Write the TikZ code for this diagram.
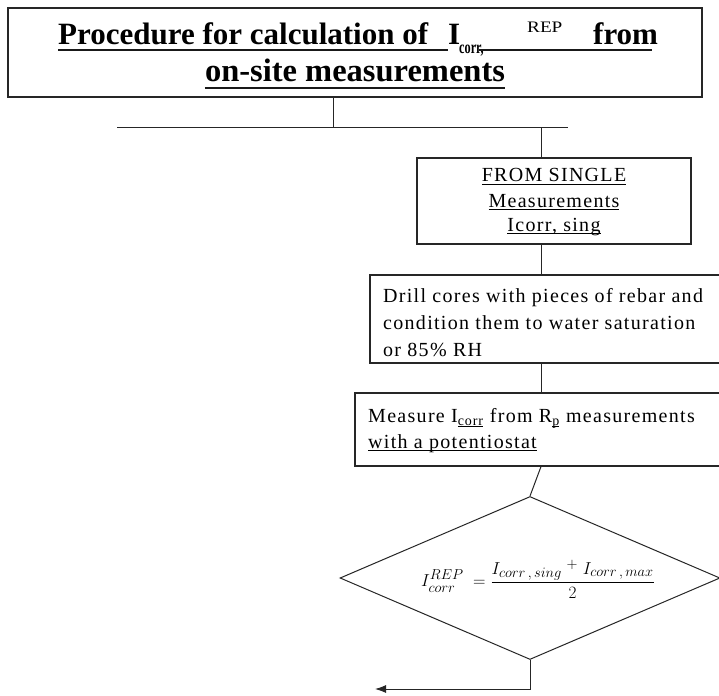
\documentclass[tikz,border=0pt]{standalone}
\usepackage{fontspec}
\setmainfont{Liberation Serif}
\newfontfamily\bodyfont[LetterSpace=6.5]{Liberation Serif}
\usetikzlibrary{shapes.geometric,arrows.meta}
\newcommand{\myul}[2][2.5pt]{\setbox0\hbox{#2}\rlap{\rule[-#1]{\wd0}{0.9pt}}\box0}
\begin{document}
\begin{tikzpicture}[x=1pt,y=-1pt,
  box/.style={draw=black!85,line width=1.2pt,rectangle,inner sep=0pt},
  conn/.style={draw=black!85,line width=1pt},
  txt/.style={inner sep=0pt,anchor=base west,font=\bodyfont\fontsize{20}{24}\selectfont,text=black},
  ctxt/.style={txt,anchor=base},
  ttl/.style={inner sep=0pt,anchor=base west,font=\fontsize{31}{36}\selectfont\bfseries},
  ulbig/.style={line width=2.5pt,black!90}
  ]
\useasboundingbox (0,0) rectangle (719,695);
\fill[white] (0,0) rectangle (719,695);

% boxes
\node[box,minimum width=694pt,minimum height=89pt] (title) at (355,52.5) {};
\node[box,minimum width=274pt,minimum height=86pt] (from) at (554,201) {};
\node[box,minimum width=400pt,minimum height=88pt] (drill) at (570,319) {};
\node[box,minimum width=415pt,minimum height=73pt] (meas) at (562.5,429.5) {};
\node[draw=black!85,line width=1pt,diamond,minimum width=380pt,minimum height=163pt,inner sep=0pt] (dia) at (530,578) {};

% title text
\node[ttl] (t1a) at (58,45) {Procedure for calculation of};
\node[ttl] (t1b) at (448,45) {I};
\node[inner sep=0pt,anchor=base west,font=\fontsize{18}{18}\selectfont\bfseries] (t1c) at (459,54) {\scalebox{0.68}[1]{corr,}};
\node[inner sep=0pt,anchor=base west,font=\fontsize{16}{16}\selectfont] (t1d) at (527,33) {\scalebox{1.2}[1]{REP}};
\node[ttl] (t1e) at (593,45) {from};
\node[ttl,anchor=base,font=\fontsize{32.5}{36}\selectfont\bfseries] (t2) at (355,82) {on-site measurements};
\draw[ulbig] ([yshift=-5pt]t1a.base west) -- ([yshift=-5pt]t1b.base west);
\draw[ulbig] (479,50) -- (652,50);
\draw[ulbig] ([yshift=-6pt]t2.base west) -- ([yshift=-6pt]t2.base east);

% from single
\node[ctxt] (f1) at (554,182) {\myul{FROM SINGLE}};
\node[ctxt] (f2) at (554,207) {\myul{Measurements}};
\node[ctxt] (f3) at (554,231) {\myul{Icorr, sing}};

% drill
\node[txt] (d1) at (383,302) {Drill cores with pieces of rebar and};
\node[txt] (d2) at (383,329) {condition them to water saturation};
\node[txt] (d3) at (383,356) {or 85\% RH};

% measure
\node[txt] (m1) at (368,422) {Measure I\textsubscript{\myul[1.5pt]{corr}} from R\textsubscript{\myul[1.5pt]{p}} measurements};
\node[txt] (m2) at (368,448) {\myul{with a potentiostat}};

% formula
\node[inner sep=0pt,font=\fontsize{19}{22}\selectfont] (formula) at (538,579)
  {$I^{\raise1pt\hbox{$\scriptstyle REP$}}_{\lower2pt\hbox{$\scriptstyle corr$}}\; = {\displaystyle\frac{I_{corr\,,\,sing} \;{}^{+}\; I_{corr\,,\,max}}{2}}$};

% connectors
\coordinate (j1) at (333,128);
\coordinate (hl) at (117,128);
\coordinate (hr) at (568,128);
\coordinate (j2) at (541,128);
\coordinate (e) at (375,689);
\draw[conn] (title.south -| j1) -- (j1);
\draw[conn] (hl) -- (hr);
\draw[conn] (j2) -- (j2 |- from.north);
\draw[conn] (from.south -| j2) -- (drill.north -| j2);
\draw[conn] (drill.south -| j2) -- (meas.north -| j2);
\draw[conn] (meas.south -| j2) -- (dia.north);
\draw[conn,-{Latex[length=11pt,width=8pt]}] (dia.south) -- (dia.south |- e) -- (e);
\end{tikzpicture}
\end{document}
